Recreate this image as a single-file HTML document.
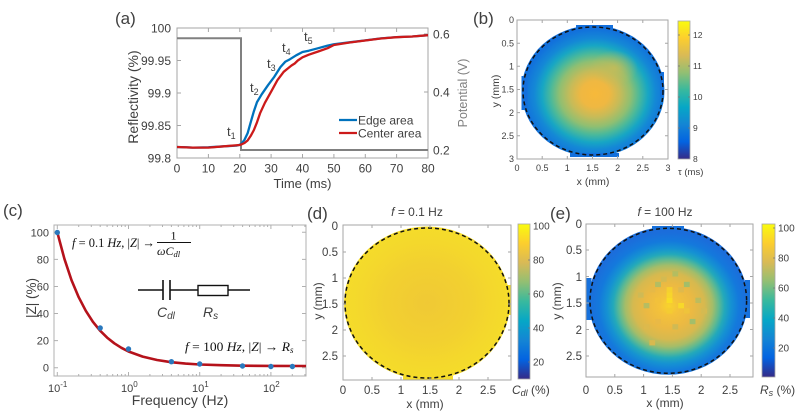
<!DOCTYPE html>
<html><head><meta charset="utf-8">
<style>
body{margin:0;background:#fff}
svg{display:block}
text{font-family:"Liberation Sans",sans-serif;fill:#404040}
.s{font-family:"Liberation Serif",serif;fill:#111}
</style></head>
<body>
<svg width="799" height="412" viewBox="0 0 799 412" xmlns="http://www.w3.org/2000/svg">
<defs>
<linearGradient id="par" x1="0" y1="1" x2="0" y2="0">
<stop offset="0" stop-color="#352a87"/><stop offset=".125" stop-color="#0363e1"/><stop offset=".25" stop-color="#1485d4"/><stop offset=".375" stop-color="#06a7c6"/><stop offset=".5" stop-color="#38b99e"/><stop offset=".625" stop-color="#92bf73"/><stop offset=".75" stop-color="#d9ba56"/><stop offset=".875" stop-color="#fcce2e"/><stop offset="1" stop-color="#f9fb0e"/>
</linearGradient>
<radialGradient id="gb" cx=".514" cy=".523" r=".5" fx=".514" fy=".523">
<stop offset="0" stop-color="#f7b93a"/><stop offset=".2" stop-color="#efb842"/><stop offset=".35" stop-color="#c7bb58"/><stop offset=".5" stop-color="#8fbf72"/><stop offset=".62" stop-color="#4bb99a"/><stop offset=".74" stop-color="#17a6c4"/><stop offset=".85" stop-color="#1488d6"/><stop offset="1" stop-color="#1270dc"/>
</radialGradient>
<radialGradient id="gb2" cx=".5" cy=".5" r=".5">
<stop offset="0" stop-color="#c9bb56" stop-opacity=".8"/><stop offset="1" stop-color="#c9bb56" stop-opacity="0"/>
</radialGradient>
<radialGradient id="gd" cx=".5" cy=".5" r=".5">
<stop offset="0" stop-color="#f0c935"/><stop offset=".5" stop-color="#f2d030"/><stop offset=".8" stop-color="#f4d82c"/><stop offset="1" stop-color="#f5dc2a"/>
</radialGradient>
<radialGradient id="ge" cx=".504" cy=".535" r=".5" fx=".504" fy=".535">
<stop offset="0" stop-color="#f8d32c"/><stop offset=".12" stop-color="#f4c23a"/><stop offset=".3" stop-color="#ebb943"/><stop offset=".45" stop-color="#d6b94f"/><stop offset=".55" stop-color="#a4bd69"/><stop offset=".63" stop-color="#5db992"/><stop offset=".7" stop-color="#23a9ba"/><stop offset=".78" stop-color="#1592d2"/><stop offset=".88" stop-color="#1479dc"/><stop offset="1" stop-color="#1b6ddb"/>
</radialGradient>
</defs>
<rect width="799" height="412" fill="#fff"/>

<!-- ============ (a) ============ -->
<text x="115" y="24" font-size="17" fill="#222">(a)</text>
<rect x="177" y="28" width="251" height="130" fill="none" stroke="#a6a6a6" stroke-width="1"/>
<path d="M177,28h4M177,60.5h4M177,93h4M177,125.5h4M177,158h4M428,34h-4M428,92h-4M428,150h-4M208.4,158v-4M239.8,158v-4M271.1,158v-4M302.5,158v-4M333.9,158v-4M365.3,158v-4M396.6,158v-4M208.4,28v4M239.8,28v4M271.1,28v4M302.5,28v4M333.9,28v4M365.3,28v4M396.6,28v4" stroke="#a6a6a6" stroke-width="1" fill="none"/>
<g font-size="12" text-anchor="end">
<text x="171" y="32.3">100</text><text x="171" y="64.8">99.95</text><text x="171" y="97.3">99.9</text><text x="171" y="129.8">99.85</text><text x="171" y="162.3">99.8</text>
</g>
<g font-size="12" text-anchor="middle">
<text x="177" y="172.5">0</text><text x="208.4" y="172.5">10</text><text x="239.8" y="172.5">20</text><text x="271.1" y="172.5">30</text><text x="302.5" y="172.5">40</text><text x="333.9" y="172.5">50</text><text x="365.3" y="172.5">60</text><text x="396.6" y="172.5">70</text><text x="428" y="172.5">80</text>
</g>
<text x="302.5" y="188" font-size="13" text-anchor="middle">Time (ms)</text>
<text x="138" y="97" font-size="14" text-anchor="middle" transform="rotate(-90 138 97)">Reflectivity (%)</text>
<g font-size="12" fill="#555">
<text x="433" y="38.3" fill="#555">0.6</text><text x="433" y="96.3" fill="#555">0.4</text><text x="433" y="154.3" fill="#555">0.2</text>
</g>
<text x="467" y="93" font-size="12.5" text-anchor="middle" transform="rotate(-90 467 93)" style="fill:#808080">Potential (V)</text>
<path d="M177,38.3H241V150H428" stroke="#808080" stroke-width="2" fill="none"/>
<path d="M177,147 L186.4,147.3 L192.7,147.6 L208.4,147.3 L224.1,146.3 L236.6,145.6 L239.8,144.7 L241.3,143.7 L244.5,139.8 L247.6,133.3 L250.7,122.3 L253.9,111.2 L257,102.1 L261.7,94.3 L268,85.2 L274.3,76.8 L280.5,67 L285.2,61.8 L290,59.2 L296.2,55.3 L302.5,52 L308.8,50.7 L318.2,48.2 L327.6,45.6 L333.9,44.3 L349.6,42.3 L365.3,40.4 L380.9,38.4 L396.6,37.1 L412.3,36.5 L428,35.2" stroke="#0072bd" stroke-width="2.3" fill="none" stroke-linejoin="round"/>
<path d="M177,147 L192.7,147.6 L208.4,147.6 L224.1,146.3 L239.8,145 L241.3,144.4 L244.5,143 L247.6,140.5 L250.7,135.9 L253.9,130 L257,122.3 L260.1,113.2 L264.9,102.8 L271.1,91.7 L277.4,80.2 L283.7,71.8 L288.4,68 L291.5,65.5 L294.7,63.5 L297.8,60.5 L302.5,57.3 L308.8,54.7 L318.2,51.5 L327.6,48.2 L333.9,45 L349.6,42.5 L365.3,40.5 L380.9,38.5 L396.6,37.2 L412.3,36.5 L428,35.2" stroke="#cc1a1a" stroke-width="2.3" fill="none" stroke-linejoin="round"/>
<g font-size="13" fill="#222">
<text x="227" y="136" fill="#222">t<tspan font-size="9" dy="3">1</tspan></text>
<text x="250" y="92" fill="#222">t<tspan font-size="9" dy="3">2</tspan></text>
<text x="267" y="68" fill="#222">t<tspan font-size="9" dy="3">3</tspan></text>
<text x="282" y="52" fill="#222">t<tspan font-size="9" dy="3">4</tspan></text>
<text x="304" y="41" fill="#222">t<tspan font-size="9" dy="3">5</tspan></text>
</g>
<path d="M339,120H357" stroke="#0072bd" stroke-width="2.3"/>
<path d="M339,133H357" stroke="#cc1a1a" stroke-width="2.3"/>
<text x="358" y="124.3" font-size="12" fill="#222">Edge area</text>
<text x="358" y="137.3" font-size="12" fill="#222">Center area</text>

<!-- ============ (b) ============ -->
<text x="473" y="24" font-size="17" fill="#222">(b)</text>
<ellipse cx="593" cy="91" rx="71.5" ry="65.5" fill="url(#gb)"/>
<ellipse cx="614" cy="68" rx="24" ry="18" fill="url(#gb2)"/>
<rect x="521.5" y="76" width="6" height="34" fill="#1470dc"/>
<rect x="576" y="25" width="37" height="4" fill="#1470dc"/>
<rect x="570" y="153" width="49" height="4" fill="#1470dc"/>
<rect x="660" y="72" width="4" height="25" fill="#1470dc"/>
<ellipse cx="593" cy="91" rx="70" ry="64" fill="none" stroke="#111" stroke-width="1.5" stroke-dasharray="4 3"/>
<rect x="517" y="20" width="151" height="139" fill="none" stroke="#a6a6a6" stroke-width="1"/>
<path d="M542.2,159v-3M567.3,159v-3M592.5,159v-3M617.6,159v-3M642.8,159v-3M542.2,20v3M567.3,20v3M592.5,20v3M617.6,20v3M642.8,20v3M517,43.2h3M517,66.3h3M517,89.5h3M517,112.6h3M517,135.8h3M668,43.2h-3M668,66.3h-3M668,89.5h-3M668,112.6h-3M668,135.8h-3" stroke="#a6a6a6" stroke-width="1"/>
<g font-size="9" text-anchor="end">
<text x="514" y="23.2">0</text><text x="514" y="46.4">0.5</text><text x="514" y="69.5">1</text><text x="514" y="92.7">1.5</text><text x="514" y="115.8">2</text><text x="514" y="139">2.5</text><text x="514" y="162.1">3</text>
</g>
<g font-size="9" text-anchor="middle">
<text x="517" y="171">0</text><text x="542.2" y="171">0.5</text><text x="567.3" y="171">1</text><text x="592.5" y="171">1.5</text><text x="617.6" y="171">2</text><text x="642.8" y="171">2.5</text><text x="668" y="171">3</text>
</g>
<text x="593" y="185" font-size="10.5" text-anchor="middle">x (mm)</text>
<text x="499" y="91" font-size="10.5" text-anchor="middle" transform="rotate(-90 499 91)">y (mm)</text>
<rect x="678" y="21" width="12" height="138" fill="url(#par)" stroke="#a6a6a6" stroke-width=".8"/>
<path d="M690,35h-2M690,66h-2M690,97h-2M690,128h-2M678,35h2M678,66h2M678,97h2M678,128h2" stroke="#777" stroke-width=".8"/>
<g font-size="8.5">
<text x="693" y="38">12</text><text x="693" y="69">11</text><text x="693" y="100">10</text><text x="693" y="131">9</text><text x="693" y="162">8</text>
</g>
<text x="678" y="175" font-size="9.5">τ (ms)</text>

<!-- ============ (c) ============ -->
<text x="3" y="216" font-size="17" fill="#222">(c)</text>
<rect x="54" y="225" width="252" height="151" fill="none" stroke="#b0b0b0" stroke-width="1"/>
<path d="M57.3,376v-4M128.5,376v-4M199.7,376v-4M270.9,376v-4M57.3,225v4M128.5,225v4M199.7,225v4M270.9,225v4
M78.7,376v-2M91.3,376v-2M100.2,376v-2M107.1,376v-2M112.7,376v-2M117.5,376v-2M121.6,376v-2M125.2,376v-2M149.9,376v-2M162.5,376v-2M171.4,376v-2M178.3,376v-2M183.9,376v-2M188.7,376v-2M192.8,376v-2M196.4,376v-2M221.1,376v-2M233.7,376v-2M242.6,376v-2M249.5,376v-2M255.1,376v-2M259.9,376v-2M264,376v-2M267.6,376v-2M292.3,376v-2M304.9,376v-2
M78.7,225v2M91.3,225v2M100.2,225v2M107.1,225v2M112.7,225v2M117.5,225v2M121.6,225v2M125.2,225v2M149.9,225v2M162.5,225v2M171.4,225v2M178.3,225v2M183.9,225v2M188.7,225v2M192.8,225v2M196.4,225v2M221.1,225v2M233.7,225v2M242.6,225v2M249.5,225v2M255.1,225v2M259.9,225v2M264,225v2M267.6,225v2M292.3,225v2M304.9,225v2
M54,367.7h4M54,340.6h4M54,313.5h4M54,286.5h4M54,259.4h4M54,232.3h4M306,367.7h-4M306,340.6h-4M306,313.5h-4M306,286.5h-4M306,259.4h-4M306,232.3h-4" stroke="#b0b0b0" stroke-width="1" fill="none"/>
<g font-size="11" text-anchor="end">
<text x="49" y="371.7">0</text><text x="49" y="344.6">20</text><text x="49" y="317.5">40</text><text x="49" y="290.5">60</text><text x="49" y="263.4">80</text><text x="49" y="236.3">100</text>
</g>
<g font-size="11">
<text x="48" y="392">10<tspan font-size="8" dy="-5">-1</tspan></text>
<text x="121" y="392">10<tspan font-size="8" dy="-5">0</tspan></text>
<text x="192" y="392">10<tspan font-size="8" dy="-5">1</tspan></text>
<text x="263" y="392">10<tspan font-size="8" dy="-5">2</tspan></text>
</g>
<text x="180" y="405" font-size="14" text-anchor="middle">Frequency (Hz)</text>
<text x="36" y="298" font-size="13.5" text-anchor="middle" transform="rotate(-90 36 298)">|Z| (%)</text>
<path d="M57.3,232.3 L64.4,258.8 L71.5,280.1 L78.7,297.2 L85.8,310.8 L92.9,321.8 L100,330.6 L107.1,337.6 L114.3,343.3 L121.4,347.8 L128.5,351.5 L142.7,356.6 L157,360 L171.2,362.2 L185.5,363.6 L199.7,364.5 L221.1,365.2 L242.4,365.7 L270.9,365.9 L306,366" stroke="#b5121b" stroke-width="2.6" fill="none" stroke-linejoin="round"/>
<g fill="#2a78bd">
<circle cx="57.3" cy="232.5" r="2.7"/><circle cx="100.2" cy="328" r="2.7"/><circle cx="128.5" cy="349" r="2.7"/><circle cx="171.4" cy="361.7" r="2.7"/><circle cx="199.7" cy="364" r="2.7"/><circle cx="242.5" cy="366" r="2.7"/><circle cx="270.9" cy="366.5" r="2.7"/><circle cx="292.4" cy="366.5" r="2.7"/>
</g>
<text class="s" x="72" y="247" font-size="13" textLength="83" lengthAdjust="spacingAndGlyphs"><tspan font-style="italic">f</tspan> = 0.1 <tspan font-style="italic">Hz</tspan>, |<tspan font-style="italic">Z</tspan>| →</text>
<text class="s" x="173.5" y="239.5" font-size="12" text-anchor="middle">1</text>
<path d="M157,242.5H191" stroke="#111" stroke-width="1"/>
<text class="s" x="157" y="255" font-size="12" font-style="italic">ωC<tspan font-size="8.5" dy="2">dl</tspan></text>
<text class="s" x="185" y="351" font-size="13" textLength="105" lengthAdjust="spacingAndGlyphs"><tspan font-style="italic">f</tspan> = 100 <tspan font-style="italic">Hz</tspan>, |<tspan font-style="italic">Z</tspan>| → <tspan font-style="italic">R</tspan></text>
<text class="s" x="290" y="353" font-size="9" font-style="italic">s</text>
<path d="M138,290H163M163,280V300M170,280V300M170,290H198M228,290H250" stroke="#111" stroke-width="1.6" fill="none"/>
<rect x="198" y="285.5" width="30" height="10" fill="none" stroke="#111" stroke-width="1.4"/>
<text x="157" y="317" font-size="14" font-style="italic" fill="#222">C<tspan font-size="10" dy="2">dl</tspan></text>
<text x="203" y="317" font-size="14" font-style="italic" fill="#222">R<tspan font-size="10" dy="2">s</tspan></text>

<!-- ============ (d) ============ -->
<text x="307" y="219" font-size="17" fill="#222">(d)</text>
<text x="417" y="216" font-size="12" text-anchor="middle" fill="#222"><tspan font-style="italic">f</tspan> = 0.1 Hz</text>
<ellipse cx="427" cy="303" rx="83" ry="76.5" fill="url(#gd)"/>
<rect x="505" y="285" width="6" height="30" fill="#f5dc2a"/>
<rect x="403" y="376" width="50" height="4" fill="#f5dc2a"/>
<ellipse cx="427" cy="303" rx="82" ry="75" fill="none" stroke="#111" stroke-width="1.5" stroke-dasharray="4 3"/>
<rect x="343" y="225" width="168" height="155" fill="none" stroke="#a6a6a6" stroke-width="1"/>
<path d="M372,380v-3M401,380v-3M430,380v-3M459,380v-3M488,380v-3M372,225v3M401,225v3M430,225v3M459,225v3M488,225v3M343,252h3M343,278h3M343,304h3M343,330h3M343,356h3M511,252h-3M511,278h-3M511,304h-3M511,330h-3M511,356h-3" stroke="#a6a6a6" stroke-width="1"/>
<g font-size="11.5" text-anchor="end">
<text x="338" y="230">0</text><text x="338" y="256">0.5</text><text x="338" y="282">1</text><text x="338" y="308">1.5</text><text x="338" y="334">2</text><text x="338" y="360">2.5</text>
</g>
<g font-size="11.5" text-anchor="middle">
<text x="343" y="394">0</text><text x="372" y="394">0.5</text><text x="401" y="394">1</text><text x="430" y="394">1.5</text><text x="459" y="394">2</text><text x="488" y="394">2.5</text>
</g>
<text x="425" y="408" font-size="12" text-anchor="middle">x (mm)</text>
<text x="322" y="301" font-size="12" text-anchor="middle" transform="rotate(-90 322 301)">y (mm)</text>
<rect x="518" y="224" width="12" height="155" fill="url(#par)" stroke="#a6a6a6" stroke-width=".8"/>
<path d="M530,260h-2M530,294h-2M530,328h-2M530,362h-2" stroke="#777" stroke-width=".8"/>
<g font-size="10">
<text x="533" y="229.5">100</text><text x="533" y="263.5">80</text><text x="533" y="297.5">60</text><text x="533" y="331.5">40</text><text x="533" y="365.5">20</text>
</g>
<text x="512" y="394" font-size="12"><tspan font-style="italic">C</tspan><tspan font-size="9" font-style="italic" dy="2">dl</tspan><tspan dy="-2"> (%)</tspan></text>

<!-- ============ (e) ============ -->
<text x="550" y="219" font-size="17" fill="#222">(e)</text>
<text x="665" y="216" font-size="12" text-anchor="middle" fill="#222"><tspan font-style="italic">f</tspan> = 100 Hz</text>
<ellipse cx="668.3" cy="300.8" rx="79.5" ry="74" fill="url(#ge)"/>
<rect x="586.5" y="278" width="5" height="42" fill="#1771dc"/>
<rect x="745" y="280" width="5" height="38" fill="#1771dc"/>
<rect x="652" y="226" width="32" height="4" fill="#1771dc"/>
<g>
<rect x="660.9" y="276.5" width="5.8" height="5.3" fill="#d3ba52"/>
<rect x="672.4" y="271.2" width="5.8" height="5.3" fill="#b4bd60"/>
<rect x="649.4" y="287.1" width="5.8" height="5.3" fill="#e6b947"/>
<rect x="666.6" y="287.1" width="5.8" height="5.3" fill="#f5d02f"/>
<rect x="678.2" y="287.1" width="5.8" height="5.3" fill="#dfb94d"/>
<rect x="655.1" y="297.7" width="5.8" height="5.3" fill="#f2c13b"/>
<rect x="666.6" y="297.7" width="5.8" height="5.3" fill="#f9dc26"/>
<rect x="666.6" y="292.4" width="5.8" height="5.3" fill="#f7d52b"/>
<rect x="678.2" y="303" width="5.8" height="5.3" fill="#f7d82a"/>
<rect x="666.6" y="308.3" width="5.8" height="5.3" fill="#f4cc32"/>
<rect x="683.9" y="308.3" width="5.8" height="5.3" fill="#efc33b"/>
<rect x="643.6" y="303" width="5.8" height="5.3" fill="#b6bd61"/>
<rect x="695.4" y="297.7" width="5.8" height="5.3" fill="#bcbc5e"/>
<rect x="655.1" y="318.9" width="5.8" height="5.3" fill="#e9b946"/>
<rect x="672.4" y="324.2" width="5.8" height="5.3" fill="#cfba54"/>
<rect x="643.6" y="324.2" width="5.8" height="5.3" fill="#ddb94c"/>
<rect x="689.7" y="318.9" width="5.8" height="5.3" fill="#a3be6a"/>
<rect x="649.4" y="340.1" width="5.8" height="5.3" fill="#d8b94f"/>
<rect x="683.9" y="281.8" width="5.8" height="5.3" fill="#a2be6a"/>
<rect x="637.8" y="292.4" width="5.8" height="5.3" fill="#cfba55"/>
<rect x="701.2" y="308.3" width="5.8" height="5.3" fill="#d4ba51"/>
<rect x="655.1" y="281.8" width="5.8" height="5.3" fill="#b3bd62"/>
</g>
<ellipse cx="668.3" cy="300.8" rx="78.3" ry="72.5" fill="none" stroke="#111" stroke-width="1.5" stroke-dasharray="4 3"/>
<rect x="586" y="224" width="167" height="153" fill="none" stroke="#a6a6a6" stroke-width="1"/>
<path d="M614.8,377v-3M643.6,377v-3M672.4,377v-3M701.2,377v-3M730,377v-3M614.8,224v3M643.6,224v3M672.4,224v3M701.2,224v3M730,224v3M586,250h3M586,276.5h3M586,303h3M586,329.5h3M586,356h3M753,250h-3M753,276.5h-3M753,303h-3M753,329.5h-3M753,356h-3" stroke="#a6a6a6" stroke-width="1"/>
<g font-size="11.5" text-anchor="end">
<text x="582" y="228">0</text><text x="582" y="254">0.5</text><text x="582" y="281">1</text><text x="582" y="307">1.5</text><text x="582" y="334">2</text><text x="582" y="360">2.5</text>
</g>
<g font-size="11.5" text-anchor="middle">
<text x="586" y="394">0</text><text x="614.8" y="394">0.5</text><text x="643.6" y="394">1</text><text x="672.4" y="394">1.5</text><text x="701.2" y="394">2</text><text x="730" y="394">2.5</text>
</g>
<text x="665" y="407" font-size="12" text-anchor="middle">x (mm)</text>
<text x="561" y="301" font-size="12" text-anchor="middle" transform="rotate(-90 561 301)">y (mm)</text>
<rect x="762" y="224" width="13" height="153" fill="url(#par)" stroke="#a6a6a6" stroke-width=".8"/>
<path d="M775,228h-2M775,258h-2M775,288h-2M775,318h-2M775,348h-2" stroke="#777" stroke-width=".8"/>
<g font-size="10">
<text x="778" y="231.5">100</text><text x="778" y="261.5">80</text><text x="778" y="291.5">60</text><text x="778" y="321.5">40</text><text x="778" y="351.5">20</text>
</g>
<text x="760" y="394" font-size="12"><tspan font-style="italic">R</tspan><tspan font-size="9" font-style="italic" dy="2">s</tspan><tspan dy="-2"> (%)</tspan></text>
</svg>
</body></html>
